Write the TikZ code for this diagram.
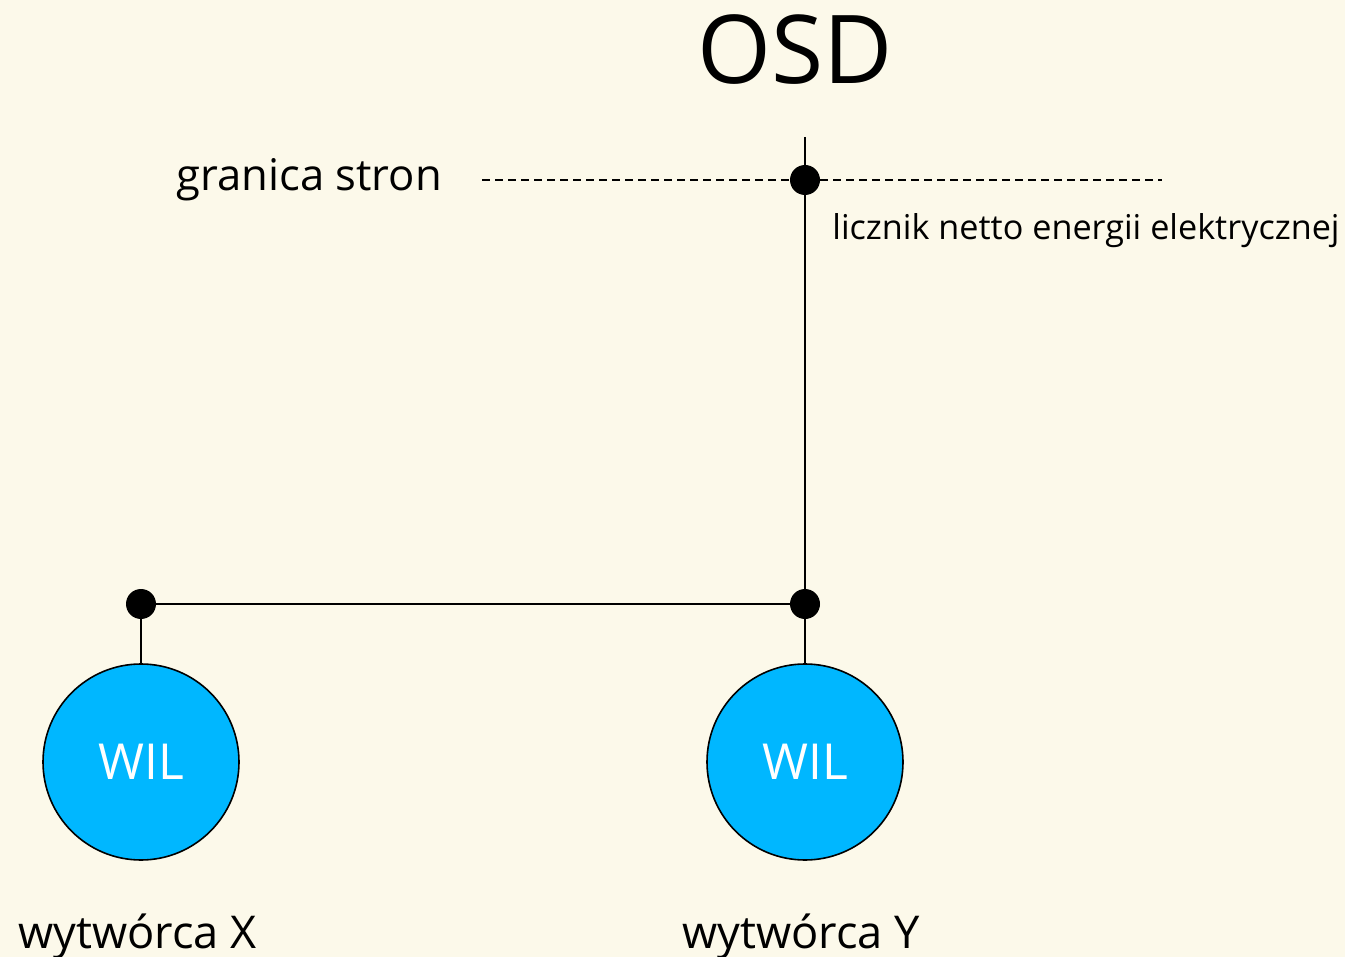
\documentclass[tikz,border=0pt]{standalone}
\usepackage{fontspec}
\setmainfont{Open Sans}
\usetikzlibrary{calc,positioning}
\definecolor{tlo}{RGB}{252,249,234}
\definecolor{wil}{RGB}{0,183,255}

\begin{document}
\begin{tikzpicture}[x=0.5pt, y=-0.5pt]

        \useasboundingbox[fill=tlo] (0,0) rectangle (1345,957);

        \coordinate (Top) at (805,137);
        \coordinate (M) at (805,180);
        \coordinate (Y) at (805,604);
        \coordinate (X) at (141,604);
        \coordinate (DashL) at (482,180);
        \coordinate (DashR) at (1162,180);

        \node[circle, draw, line width=0.8pt, fill=wil, minimum size=98pt, inner sep=0pt,
              text=white, font=\fontsize{24.8}{24.8}\selectfont] (wilX) at (141,762) {WIL};
        \node[circle, draw, line width=0.8pt, fill=wil, minimum size=98pt, inner sep=0pt,
              text=white, font=\fontsize{24.8}{24.8}\selectfont] (wilY) at (805,762) {WIL};

        \draw[line width=0.7pt, dash pattern=on 4pt off 2.5pt] (DashL) -- (DashR);
        \draw[line width=0.9pt] (Top) -- (Y);
        \draw[line width=0.9pt] (X) -- (Y);
        \draw[line width=0.9pt] (X) -- (wilX);
        \draw[line width=0.9pt] (Y) -- (wilY);

        \foreach \v in {M,X,Y}
        {
            \fill (\v) circle (7.5pt);
        };

        \node[anchor=base, font=\fontsize{47.5}{47.5}\selectfont] (osd) at (795,84) {OSD};
        \node[anchor=base west, inner sep=0pt, font=\fontsize{21.8}{21.8}\selectfont] (granica) at (176,191) {granica stron};
        \node[anchor=base west, inner sep=0pt, font=\fontsize{17.1}{17.1}\selectfont] (licznik) at (832,240) {licznik netto energii elektrycznej};
        \node[anchor=base west, inner sep=0pt, font=\fontsize{22.6}{22.6}\selectfont] (wytX) at (18,948) {wytwórca X};
        \node[anchor=base west, inner sep=0pt, font=\fontsize{22.6}{22.6}\selectfont] (wytY) at (682,948) {wytwórca Y};

\end{tikzpicture}
\end{document}
